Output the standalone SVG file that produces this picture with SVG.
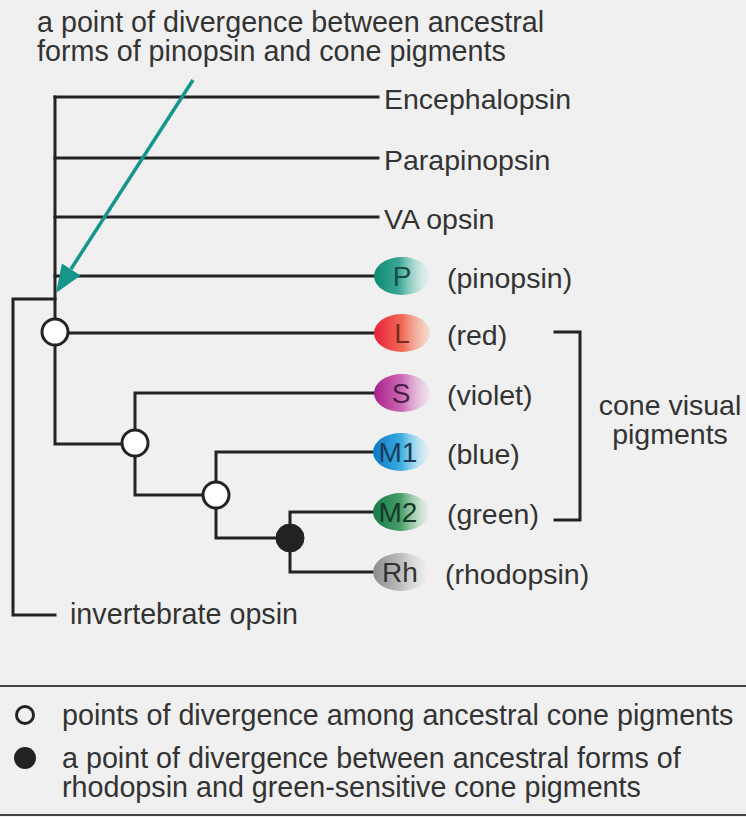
<svg xmlns="http://www.w3.org/2000/svg" width="746" height="817" viewBox="0 0 746 817">
<defs>
<style>
.ln{stroke:#232323;stroke-width:3;fill:none;stroke-linecap:square}
.lab{font-family:"Liberation Sans",Arial,sans-serif;font-size:28.5px;fill:#333}
.cnd{font-family:"Liberation Sans",Arial,sans-serif;font-size:28.7px;fill:#333}
.node{fill:#fff;stroke:#232323;stroke-width:3}
.let{font-family:"Liberation Sans",Arial,sans-serif;font-size:28px;text-anchor:middle}
</style>
<linearGradient id="gP" x1="0" x2="1" y1="0" y2="0"><stop offset="0" stop-color="#0d8a72"/><stop offset="0.45" stop-color="#3aa894"/><stop offset="1" stop-color="#d8efea" stop-opacity="0.3"/></linearGradient>
<linearGradient id="gL" x1="0" x2="1" y1="0" y2="0"><stop offset="0" stop-color="#e8203c"/><stop offset="0.5" stop-color="#f06a55"/><stop offset="1" stop-color="#f8c8b0" stop-opacity="0.5"/></linearGradient>
<linearGradient id="gS" x1="0" x2="1" y1="0" y2="0"><stop offset="0" stop-color="#a8208c"/><stop offset="0.5" stop-color="#cc6ab4"/><stop offset="1" stop-color="#f0d0e8" stop-opacity="0.4"/></linearGradient>
<linearGradient id="gM1" x1="0" x2="1" y1="0" y2="0"><stop offset="0" stop-color="#0a78c8"/><stop offset="0.5" stop-color="#3aaee0"/><stop offset="1" stop-color="#d0eef8" stop-opacity="0.4"/></linearGradient>
<linearGradient id="gM2" x1="0" x2="1" y1="0" y2="0"><stop offset="0" stop-color="#157a48"/><stop offset="0.5" stop-color="#4a9e6a"/><stop offset="1" stop-color="#d8ecd8" stop-opacity="0.4"/></linearGradient>
<linearGradient id="gRh" x1="0" x2="1" y1="0" y2="0"><stop offset="0" stop-color="#8c8c8c"/><stop offset="0.5" stop-color="#bdbdbd"/><stop offset="1" stop-color="#ececec" stop-opacity="0.4"/></linearGradient>
</defs>
<rect x="0" y="0" width="746" height="817" fill="#f0f0f0"/>

<g id="title">
<text class="cnd" x="37" y="32">a point of divergence between ancestral</text>
<text class="cnd" x="37" y="61">forms of pinopsin and cone pigments</text>
</g>

<g id="connectors">
<path class="ln" d="M55,97 V319"/>
<path class="ln" d="M55,97 H378"/>
<path class="ln" d="M55,158 H378"/>
<path class="ln" d="M55,217 H378"/>
<path class="ln" d="M55,276 H378"/>
<path class="ln" d="M55,299 H13 V615 H55"/>
<path class="ln" d="M68,333 H378"/>
<path class="ln" d="M55,345 V444 H122"/>
<path class="ln" d="M135,430 V393 H378"/>
<path class="ln" d="M135,456 V495 H203"/>
<path class="ln" d="M216,482 V452 H378"/>
<path class="ln" d="M216,508 V538 H276"/>
<path class="ln" d="M290,524 V512 H378"/>
<path class="ln" d="M290,552 V572 H378"/>
<path class="ln" d="M555,332 H580 V520 H555"/>
<g id="arrow">
<path d="M193,80 L71,269" stroke="#14968a" stroke-width="3.5" fill="none"/>
<polygon points="56,293 80.5,275.4 61.9,263.4" fill="#14968a"/>
</g>
</g>

<g id="n-root"><circle class="node" cx="55" cy="332" r="13"/></g>
<g id="n-cone2"><circle class="node" cx="135" cy="443" r="13"/></g>
<g id="n-cone3"><circle class="node" cx="216" cy="495" r="13"/></g>
<g id="n-rh"><circle cx="290" cy="538" r="14" fill="#222" stroke="#222" stroke-width="1"/></g>

<g id="encephalopsin"><text class="lab" x="384" y="109">Encephalopsin</text></g>
<g id="parapinopsin"><text class="lab" x="384" y="170">Parapinopsin</text></g>
<g id="vaopsin"><text class="lab" x="384" y="229">VA opsin</text></g>

<g id="pinopsin">
<ellipse cx="402" cy="276" rx="28" ry="19" fill="url(#gP)"/>
<text class="let" x="402" y="286" fill="#1b4b46">P</text>
<text class="lab" x="447" y="288">(pinopsin)</text>
</g>
<g id="red">
<ellipse cx="402" cy="333" rx="28" ry="19" fill="url(#gL)"/>
<text class="let" x="402" y="343" fill="#7a2a1c">L</text>
<text class="lab" x="447" y="345">(red)</text>
</g>
<g id="violet">
<ellipse cx="402" cy="393" rx="28" ry="19" fill="url(#gS)"/>
<text class="let" x="401" y="403" fill="#4b1e46">S</text>
<text class="lab" x="447" y="405">(violet)</text>
</g>
<g id="blue">
<ellipse cx="401" cy="452" rx="28" ry="19" fill="url(#gM1)"/>
<text class="let" x="398" y="462" fill="#1b3b5a">M1</text>
<text class="lab" x="447" y="464">(blue)</text>
</g>
<g id="green">
<ellipse cx="401" cy="512" rx="28" ry="19" fill="url(#gM2)"/>
<text class="let" x="398" y="522" fill="#173a26">M2</text>
<text class="lab" x="447" y="524">(green)</text>
</g>
<g id="rhodopsin">
<ellipse cx="401" cy="572" rx="28" ry="19" fill="url(#gRh)"/>
<text class="let" x="400" y="582" fill="#333">Rh</text>
<text class="lab" x="445" y="584">(rhodopsin)</text>
</g>

<g id="cone-visual">
<text class="lab" x="670" y="415" text-anchor="middle">cone visual</text>
<text class="lab" x="670" y="444" text-anchor="middle">pigments</text>
</g>

<g id="invertebrate"><text class="cnd" x="70" y="624">invertebrate opsin</text></g>

<g id="legend">
<line x1="0" y1="686" x2="746" y2="686" stroke="#444" stroke-width="2"/>
<line x1="0" y1="815" x2="746" y2="815" stroke="#444" stroke-width="2"/>
<circle cx="25" cy="715" r="8.5" fill="none" stroke="#222" stroke-width="3"/>
<text class="cnd" x="62" y="725">points of divergence among ancestral cone pigments</text>
<circle cx="25" cy="758" r="11" fill="#222"/>
<text class="cnd" x="62" y="768">a point of divergence between ancestral forms of</text>
<text class="cnd" x="62" y="797">rhodopsin and green-sensitive cone pigments</text>
</g>
</svg>
